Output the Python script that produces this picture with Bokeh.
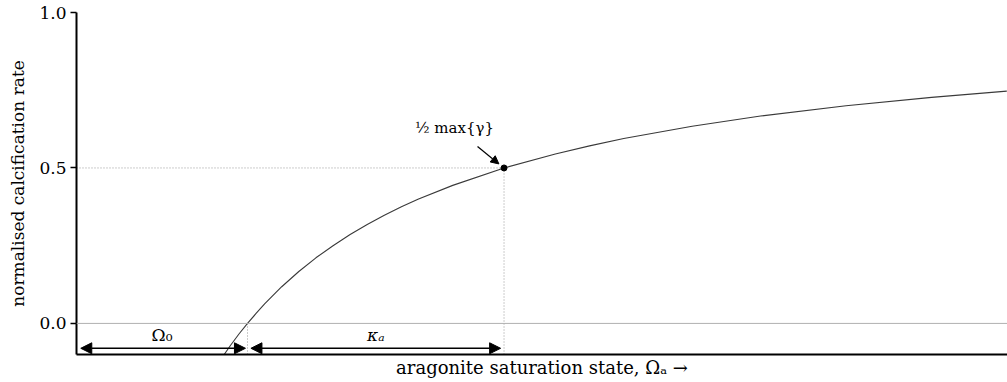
from bokeh.plotting import figure
from bokeh.models import Span, Arrow, NormalHead, Label, FixedTicker, PrintfTickFormatter
from bokeh.embed import file_html
from bokeh.resources import INLINE

# Curve (x in units of Omega_0)
omega = [0.86, 0.9, 0.95, 1.0, 1.05, 1.1, 1.2, 1.3, 1.4, 1.5, 1.6, 1.7, 1.8, 1.9, 2.0, 2.2, 2.5,
         2.8, 3.0, 3.2, 3.6, 4.0, 4.5, 5.0, 5.44]
rate = [-0.103, -0.071, -0.034, 0.0, 0.032, 0.0625, 0.118, 0.167, 0.211, 0.25, 0.286, 0.318,
        0.348, 0.375, 0.4, 0.444, 0.5, 0.545, 0.571, 0.595, 0.634, 0.667, 0.7, 0.727, 0.747]
omega0 = 1.0
kappa = 1.5
half_point = [2.5, 0.5]
yticks = [0.0, 0.5, 1.0]

FONT = "DejaVu Serif"

p = figure(width=1007, height=382, output_backend="svg", toolbar_location=None,
           x_range=(0, 5.444), y_range=(-0.1, 1.0),
           min_border_left=76, min_border_right=0, min_border_top=12, min_border_bottom=28)
p.outline_line_color = None
p.grid.visible = False
p.background_fill_color = "white"

# y axis
p.yaxis.ticker = FixedTicker(ticks=yticks)
p.yaxis.formatter = PrintfTickFormatter(format="%.1f")
p.yaxis.axis_line_width = 2
p.yaxis.axis_line_color = "black"
p.yaxis.major_tick_line_color = "black"
p.yaxis.major_tick_line_width = 1.5
p.yaxis.major_tick_out = 6
p.yaxis.major_tick_in = 0
p.yaxis.minor_tick_line_color = None
p.yaxis.major_label_text_font = FONT
p.yaxis.major_label_text_font_size = "17px"
p.yaxis.major_label_text_color = "black"
p.yaxis.major_label_standoff = 4
p.yaxis.axis_label = "normalised calcification rate"
p.yaxis.axis_label_text_font = FONT
p.yaxis.axis_label_text_font_style = "normal"
p.yaxis.axis_label_text_font_size = "17px"
p.yaxis.axis_label_text_color = "black"
p.yaxis.axis_label_standoff = 8

# x axis
p.xaxis.ticker = FixedTicker(ticks=[])
p.xaxis.axis_line_width = 2
p.xaxis.axis_line_color = "black"
p.xaxis.major_tick_line_color = None
p.xaxis.minor_tick_line_color = None
p.xaxis.major_label_text_font_size = "0px"
p.xaxis.axis_label = "aragonite saturation state, Ωₐ →"
p.xaxis.axis_label_text_font = FONT
p.xaxis.axis_label_text_font_style = "normal"
p.xaxis.axis_label_text_font_size = "18px"
p.xaxis.axis_label_text_color = "black"
p.xaxis.axis_label_standoff = 2

# reference lines
p.add_layout(Span(location=0.0, dimension="width", line_color="#b0b0b0", line_width=1))
p.line([0, half_point[0]], [half_point[1], half_point[1]], line_color="#999999",
       line_dash="1 2", line_width=1)
p.line([half_point[0], half_point[0]], [-0.1, half_point[1]], line_color="#999999",
       line_dash="1 2", line_width=1)
p.line([omega0, omega0], [-0.1, 0.0], line_color="#999999", line_dash="1 2", line_width=1)

# curve
p.line(omega, rate, line_color="#3a3a3a", line_width=1.1)
p.scatter([half_point[0]], [half_point[1]], size=6, color="black")

# double arrows
ya = -0.08
for x0, x1 in [(0.025, omega0 - 0.012), (omega0 + 0.02, omega0 + kappa - 0.02)]:
    p.add_layout(Arrow(x_start=x0, y_start=ya, x_end=x1, y_end=ya, line_color="black",
                       line_width=1.5,
                       start=NormalHead(size=11, fill_color="black", line_color="black"),
                       end=NormalHead(size=11, fill_color="black", line_color="black")))

p.add_layout(Label(x=omega0 / 2, y=-0.071, text="Ω₀", text_align="center",
                   text_baseline="bottom", text_font=FONT, text_font_size="17px",
                   text_color="black"))
p.add_layout(Label(x=omega0 + kappa / 2, y=-0.071, text="κₐ", text_align="center",
                   text_baseline="bottom", text_font=FONT, text_font_size="17px",
                   text_font_style="italic", text_color="black"))

# annotation
p.add_layout(Label(x=2.21, y=0.6, text="½ max{γ}", text_align="center",
                   text_baseline="bottom", text_font=FONT, text_font_size="15px",
                   text_color="black"))
p.add_layout(Arrow(x_start=2.345, y_start=0.569, x_end=2.47, y_end=0.513,
                   line_color="black", line_width=1.2,
                   end=NormalHead(size=8, fill_color="black", line_color="black")))

open("out.html", "w").write(file_html(p, INLINE))
